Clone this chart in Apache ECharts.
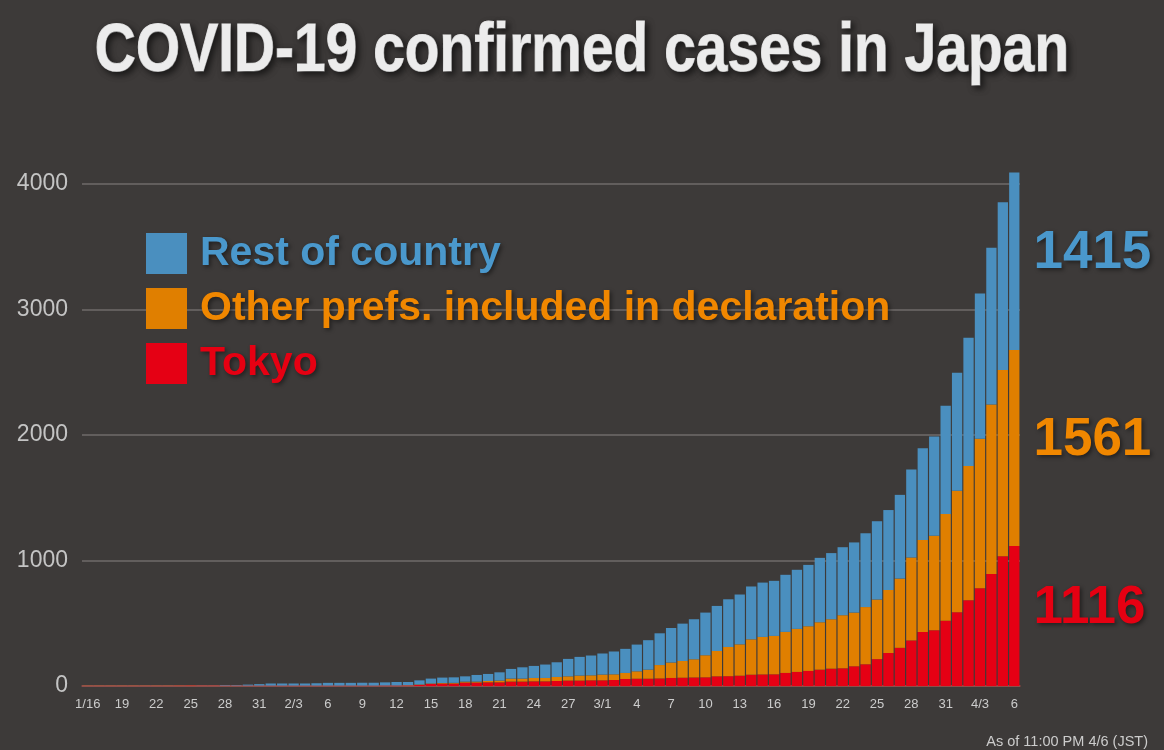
<!DOCTYPE html>
<html>
<head>
<meta charset="utf-8">
<script src="https://cdn.jsdelivr.net/npm/echarts@6/dist/echarts.min.js"></script>
<style>
html,body{margin:0;padding:0;background:#3d3a39;}
#c{width:1164px;height:750px;}
</style>
</head>
<body>
<div id="c"></div>
<script>
var categories = ['1/16','1/17','1/18','1/19','1/20','1/21','1/22','1/23','1/24','1/25','1/26','1/27','1/28','1/29','1/30','1/31',
'2/1','2/2','2/3','2/4','2/5','2/6','2/7','2/8','2/9','2/10','2/11','2/12','2/13','2/14','2/15','2/16','2/17','2/18','2/19','2/20','2/21','2/22','2/23','2/24','2/25','2/26','2/27','2/28','2/29',
'3/1','3/2','3/3','3/4','3/5','3/6','3/7','3/8','3/9','3/10','3/11','3/12','3/13','3/14','3/15','3/16','3/17','3/18','3/19','3/20','3/21','3/22','3/23','3/24','3/25','3/26','3/27','3/28','3/29','3/30','3/31',
'4/1','4/2','4/3','4/4','4/5','4/6'];

var xTickLabels = ['1/16','19','22','25','28','31','2/3','6','9','12','15','18','21','24','27','3/1','4','7','10','13','16','19','22','25','28','31','4/3','6'];

var yTicks = [0, 1000, 2000, 3000, 4000];

var tokyo = [0,0,0,0,0,0,0,0,1,2,
 2,2,2,2,2,2,2,2,2,2,
 2,2,2,2,2,2,3,3,4,8,
 16,19,19,27,27,29,29,35,35,37,
 37,40,43,43,45,45,48,56,58,58,
 60,64,66,68,69,77,78,82,90,92,
 93,104,112,120,130,138,141,157,173,214,
 263,304,363,431,444,520,588,683,778,892,
 1033,1116];

var otherPrefs = [1,1,1,1,1,1,1,1,1,1,
 1,1,1,1,1,1,1,1,1,1,
 1,1,1,1,1,1,1,1,2,4,
 4,5,6,8,8,11,14,24,24,27,
 27,32,34,40,40,46,45,48,59,72,
 107,123,133,145,176,202,233,250,282,299,
 306,327,343,356,378,394,423,428,456,475,
 502,552,661,732,754,851,968,1070,1192,1352,
 1485,1561];

var restOfCountry = [0,0,0,0,0,0,0,0,0,0,
 1,1,4,4,8,12,17,17,17,17,
 19,22,22,22,23,23,25,28,26,33,
 39,43,44,42,53,56,66,77,90,96,
 107,117,139,149,158,168,182,192,213,235,
 253,275,298,319,340,359,380,397,421,433,
 439,455,471,489,513,527,542,559,588,624,
 637,667,702,731,791,862,940,1022,1157,1249,
 1336,1415];

var seriesNames = ['Tokyo', 'Other prefs. included in declaration', 'Rest of country'];
var barColors = ['#e50014', '#e07f00', '#4a8fbf'];
var textColors = ['#e60012', '#f08700', '#4a98cc'];

var chart = echarts.init(document.getElementById('c'), null, {renderer: 'canvas'});

function buildData(arr, idx) {
  return arr.map(function (v, i) {
    if (i === arr.length - 1) {
      return {
        value: v,
        label: {
          show: true,
          position: 'right',
          distance: 14,
          offset: [0, -8],
          formatter: String(v),
          fontFamily: 'Liberation Sans, Arial, sans-serif',
          fontWeight: 'bold',
          fontSize: 53,
          color: textColors[idx],
          textShadowColor: 'rgba(0,0,0,0.45)',
          textShadowBlur: 4,
          textShadowOffsetX: 2,
          textShadowOffsetY: 2
        }
      };
    }
    return v;
  });
}

var dataSets = [tokyo, otherPrefs, restOfCountry];
var series = dataSets.map(function (arr, idx) {
  return {
    name: seriesNames[idx],
    type: 'bar',
    stack: 'total',
    clip: false,
    barCategoryGap: '10%',
    itemStyle: {color: barColors[idx]},
    data: buildData(arr, idx)
  };
});

var legendText = {
  fontFamily: 'Liberation Sans, Arial, sans-serif',
  fontWeight: 'bold',
  fontSize: 41,
  padding: [0, 0, 0, 8],
  textShadowColor: 'rgba(0,0,0,0.45)',
  textShadowBlur: 4,
  textShadowOffsetX: 2,
  textShadowOffsetY: 2
};

chart.setOption({
  animation: false,
  backgroundColor: '#3d3a39',
  graphic: [{
    type: 'text',
    x: 582,
    y: 52,
    scaleX: 0.825,
    style: {
      text: 'COVID-19 confirmed cases in Japan',
      textAlign: 'center',
      textVerticalAlign: 'middle',
      fontFamily: 'Liberation Sans, Arial, sans-serif',
      fontWeight: 'bold',
      fontSize: 69,
      fill: '#ececec',
      stroke: '#ececec',
      lineWidth: 1.2,
      textShadowColor: 'rgba(0,0,0,0.6)',
      textShadowBlur: 6,
      textShadowOffsetX: 3,
      textShadowOffsetY: 3
    }
  }, {
    type: 'text',
    right: 16,
    top: 734,
    style: {
      text: 'As of 11:00 PM 4/6 (JST)',
      fontFamily: 'Liberation Sans, Arial, sans-serif',
      fontSize: 14.5,
      fill: '#cccccc'
    }
  }],
  legend: {
    orient: 'vertical',
    left: 146,
    top: 233,
    padding: 0,
    itemWidth: 41,
    itemHeight: 41,
    itemGap: 14,
    icon: 'rect',
    selectedMode: false,
    textStyle: legendText,
    data: [
      {name: seriesNames[2], textStyle: {color: textColors[2]}},
      {name: seriesNames[1], textStyle: {color: textColors[1]}},
      {name: seriesNames[0], textStyle: {color: textColors[0]}}
    ]
  },
  grid: {left: 82, right: 144, top: 184, bottom: 64, containLabel: false},
  xAxis: {
    type: 'category',
    data: categories,
    axisTick: {show: false},
    axisLine: {show: true, lineStyle: {color: '#9a4a45', width: 1.5}},
    axisLabel: {
      interval: 2,
      margin: 12,
      color: '#cccccc',
      fontSize: 13,
      fontFamily: 'Liberation Sans, Arial, sans-serif',
      formatter: function (v, i) { return xTickLabels[Math.round(i / 3)]; }
    }
  },
  yAxis: {
    type: 'value',
    min: yTicks[0],
    max: yTicks[yTicks.length - 1],
    interval: 1000,
    axisLine: {show: false},
    axisTick: {show: false},
    axisLabel: {
      margin: 14,
      color: '#c4c4c4',
      fontSize: 23,
      fontFamily: 'Liberation Sans, Arial, sans-serif',
      formatter: function (v) { return String(v); }
    },
    splitLine: {lineStyle: {color: '#6f6b6a', width: 1.5}}
  },
  series: series
});
</script>
</body>
</html>
